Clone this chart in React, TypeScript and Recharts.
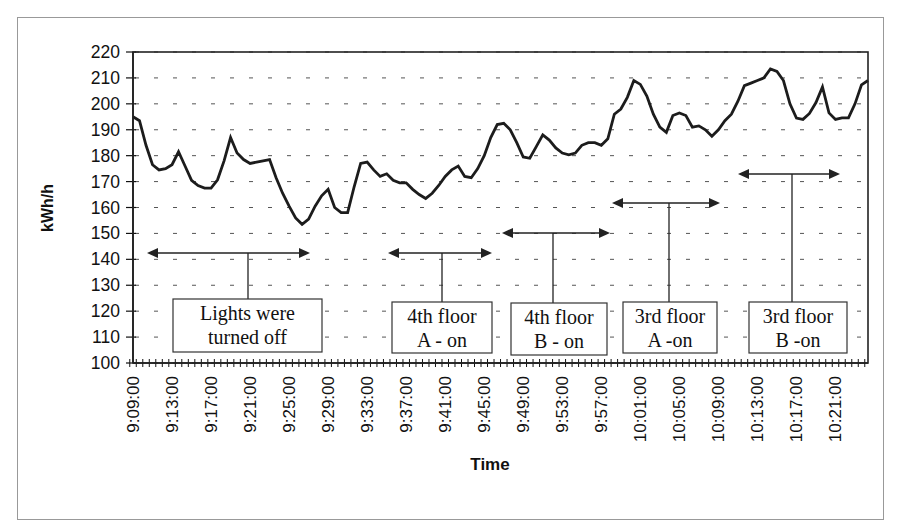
import { LineChart, Line, XAxis, YAxis, CartesianGrid } from "recharts";

// Building load, one reading every 40 seconds starting at 9:09:00
const START_TIME = "9:09:00";
const STEP_SECONDS = 40;

const kwh = [
  195, 193.5, 184, 176.5, 174.5, 175,
  176.5, 181.5, 176, 170.5, 168.5, 167.5,
  167.5, 170.7, 178, 187, 181, 178.5,
  177, 177.5, 178, 178.5, 171.5, 165.5,
  160.5, 156, 153.5, 155.5, 160.5, 164.5,
  167, 160, 158, 158, 168, 177,
  177.5, 174.5, 172, 173, 170.5, 169.5,
  169.5, 167, 165, 163.5, 165.5, 168.5,
  172, 174.5, 176, 172, 171.5, 175,
  180, 187, 192, 192.5, 190, 185,
  179.5, 179, 183.5, 188, 186, 183,
  181, 180.3, 181, 184, 185, 185,
  184, 186.5, 196, 198, 202.5, 209,
  207.5, 203, 196, 191, 189, 195.5,
  196.5, 195.5, 191, 191.5, 190, 187.5,
  190, 193.5, 196, 201, 207, 208,
  209, 210, 213.5, 212.5, 209, 200,
  194.5, 194, 196.3, 200.5, 206.5, 196.5,
  194, 194.6, 194.6, 200, 207.3, 209,
];

const tickLabels = [
  "9:09:00", "9:13:00", "9:17:00", "9:21:00", "9:25:00", "9:29:00", "9:33:00",
  "9:37:00", "9:41:00", "9:45:00", "9:49:00", "9:53:00", "9:57:00", "10:01:00",
  "10:05:00", "10:09:00", "10:13:00", "10:17:00", "10:21:00",
];

const yTicks = [100, 110, 120, 130, 140, 150, 160, 170, 180, 190, 200, 210, 220];

const W = 900;
const H = 531;
const PLOT = { left: 133, right: 868, top: 52, bottom: 363 };
const BAND = (PLOT.right - PLOT.left) / kwh.length;

// callouts: double arrow over a period, stem down to a text box
const callouts = [
  { lines: ["Lights were", "turned off"], x1: 147, x2: 310, y: 253, stem: 248, box: [173, 299, 322, 352] },
  { lines: ["4th floor", "A - on"], x1: 388, x2: 492, y: 253, stem: 442, box: [392, 302, 492, 353] },
  { lines: ["4th floor", "B - on"], x1: 502, x2: 610, y: 233, stem: 553, box: [511, 303, 607, 355] },
  { lines: ["3rd floor", "A -on"], x1: 612, x2: 720, y: 203, stem: 669, box: [623, 302, 717, 353] },
  { lines: ["3rd floor", "B -on"], x1: 738, x2: 840, y: 174, stem: 792, box: [749, 302, 847, 353] },
];

function toSeconds(t: string) {
  const [h, m, s] = t.split(":").map(Number);
  return h * 3600 + m * 60 + s;
}

function fmtTime(sec: number) {
  const h = Math.floor(sec / 3600);
  const m = Math.floor((sec % 3600) / 60);
  const s = sec % 60;
  return `${h}:${String(m).padStart(2, "0")}:${String(s).padStart(2, "0")}`;
}

const start = toSeconds(START_TIME);
const data = kwh.map((v, i) => ({ time: fmtTime(start + i * STEP_SECONDS), kwh: v }));

const SANS = "'Liberation Sans', Arial, sans-serif";
const SERIF = "'Liberation Serif', 'Times New Roman', serif";

function TimeTick(props: any) {
  const { x, payload } = props;
  const edge = x - BAND / 2;
  const show = tickLabels.includes(payload.value);
  return (
    <g>
      <line x1={edge} x2={edge} y1={PLOT.bottom - 4} y2={PLOT.bottom + 4} stroke="#111" strokeWidth={1} />
      {show && (
        <text
          x={x}
          y={PLOT.bottom + 13}
          transform={`rotate(-90, ${x}, ${PLOT.bottom + 13})`}
          textAnchor="end"
          dominantBaseline="central"
          fontFamily={SANS}
          fontSize={17}
          fill="#111"
        >
          {payload.value}
        </text>
      )}
    </g>
  );
}

function ValueTick(props: any) {
  const { y, payload } = props;
  return (
    <g>
      <line x1={PLOT.left - 7} x2={PLOT.left + 3} y1={y} y2={y} stroke="#111" strokeWidth={1.2} />
      <text x={120} y={y} textAnchor="end" dominantBaseline="central" fontFamily={SANS} fontSize={17.5} fill="#111">
        {payload.value}
      </text>
    </g>
  );
}

function Arrowhead({ x, y, dir }: { x: number; y: number; dir: 1 | -1 }) {
  const len = 11;
  const half = 5;
  return <polygon points={`${x},${y} ${x - dir * len},${y - half} ${x - dir * len},${y + half}`} fill="#222" />;
}

function Callouts() {
  return (
    <svg width={W} height={H} style={{ position: "absolute", left: 0, top: 0, pointerEvents: "none" }}>
      <rect x={17.5} y={17.5} width={866} height={502} fill="none" stroke="#999" strokeWidth={1} />
      <rect
        x={PLOT.left}
        y={PLOT.top}
        width={PLOT.right - PLOT.left}
        height={PLOT.bottom - PLOT.top}
        fill="none"
        stroke="#222"
        strokeWidth={1.6}
      />
      {callouts.map((c, i) => {
        const [bx1, by1, bx2, by2] = c.box;
        const cx = (bx1 + bx2) / 2;
        return (
          <g key={i}>
            <line x1={c.x1 + 4} x2={c.x2 - 4} y1={c.y} y2={c.y} stroke="#222" strokeWidth={1.6} />
            <Arrowhead x={c.x1} y={c.y} dir={-1} />
            <Arrowhead x={c.x2} y={c.y} dir={1} />
            <line x1={c.stem} x2={c.stem} y1={c.y} y2={by1} stroke="#222" strokeWidth={1.3} />
            <rect x={bx1} y={by1} width={bx2 - bx1} height={by2 - by1} fill="#fff" stroke="#333" strokeWidth={1.2} />
            <text x={cx} y={by1 + 21} textAnchor="middle" fontFamily={SERIF} fontSize={20} fill="#111">
              {c.lines[0]}
            </text>
            <text x={cx} y={by1 + 45} textAnchor="middle" fontFamily={SERIF} fontSize={20} fill="#111">
              {c.lines[1]}
            </text>
          </g>
        );
      })}
      <text
        x={47}
        y={208}
        transform="rotate(-90, 47, 208)"
        textAnchor="middle"
        dominantBaseline="central"
        fontFamily={SANS}
        fontSize={16}
        fontWeight="bold"
        fill="#111"
      >
        kWh/h
      </text>
      <text x={490} y={470} textAnchor="middle" fontFamily={SANS} fontSize={17} fontWeight="bold" fill="#111">
        Time
      </text>
    </svg>
  );
}

export default function App() {
  return (
    <div style={{ position: "absolute", left: 0, top: 0, width: W, height: H, background: "#fff" }}>
      <LineChart
        width={W}
        height={H}
        data={data}
        margin={{ top: PLOT.top, right: W - PLOT.right, left: 0, bottom: 0 }}
      >
        <CartesianGrid vertical={false} stroke="#555" strokeDasharray="4 15" strokeDashoffset={17} />
        <XAxis
          dataKey="time"
          interval={0}
          height={H - PLOT.bottom}
          tick={<TimeTick />}
          tickLine={false}
          axisLine={{ stroke: "#111", strokeWidth: 1.6 }}
        />
        <YAxis
          width={PLOT.left}
          domain={[100, 220]}
          ticks={yTicks}
          interval={0}
          tick={<ValueTick />}
          tickLine={false}
          axisLine={{ stroke: "#111", strokeWidth: 1.6 }}
        />
        <Line
          type="linear"
          dataKey="kwh"
          stroke="#1c1c1c"
          strokeWidth={2.8}
          dot={false}
          isAnimationActive={false}
        />
      </LineChart>
      <Callouts />
    </div>
  );
}
